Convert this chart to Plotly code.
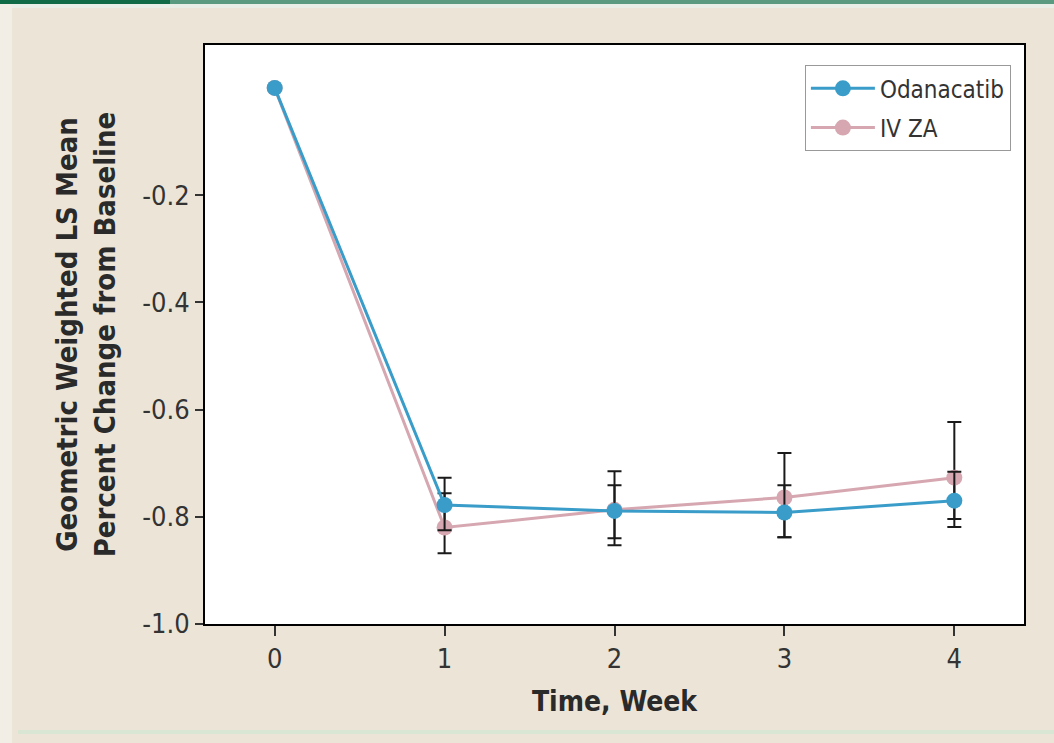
import plotly.graph_objects as go

weeks = [0, 1, 2, 3, 4]
odan_mean = [0.0, -0.778, -0.789, -0.792, -0.770]
odan_upper = [0.0, -0.727, -0.741, -0.741, -0.716]
odan_lower = [0.0, -0.825, -0.840, -0.838, -0.819]
ivza_mean = [0.0, -0.820, -0.787, -0.764, -0.727]
ivza_upper = [0.0, -0.756, -0.715, -0.681, -0.623]
ivza_lower = [0.0, -0.868, -0.853, -0.838, -0.804]

yticks = [-1.0, -0.8, -0.6, -0.4, -0.2]
ytick_text = ["-1.0", "-0.8", "-0.6", "-0.4", "-0.2"]
xticks = [0, 1, 2, 3, 4]

FONT = "DejaVu Sans Condensed, Liberation Sans Narrow, Arial Narrow, Liberation Sans, sans-serif"
BG = "#ece5d7"


def err(mean, up, lo):
    plus = [u - m for u, m in zip(up, mean)]
    minus = [m - l for m, l in zip(mean, lo)]
    return dict(type="data", symmetric=False, array=plus, arrayminus=minus,
                color="#1a1a1a", thickness=2, width=7)


fig = go.Figure()
fig.add_trace(go.Scatter(
    x=weeks, y=ivza_mean, name="IV ZA", mode="lines+markers",
    legendgroup="b", legendrank=2,
    line=dict(color="#d6a7b0", width=3),
    marker=dict(color="#d6a7b0", size=16),
    error_y=err(ivza_mean, ivza_upper, ivza_lower),
))
fig.add_trace(go.Scatter(
    x=weeks, y=odan_mean, name="Odanacatib", mode="lines+markers",
    legendgroup="a", legendrank=1,
    line=dict(color="#3a9dc9", width=3),
    marker=dict(color="#3a9dc9", size=16),
    error_y=err(odan_mean, odan_upper, odan_lower),
))

ml, mr, mt, mb = 205, 30, 45, 119
W, H = 1054, 743
pw, ph = W - ml - mr, H - mt - mb


def px(x):
    return (x - ml) / pw


def py(y):
    return 1 - (y - mt) / ph


shapes = [
    dict(type="rect", xref="paper", yref="paper", x0=px(0), x1=px(12), y0=py(H), y1=py(0),
         fillcolor="#f2eee6", line=dict(width=0), layer="below"),
    dict(type="rect", xref="paper", yref="paper", x0=px(0), x1=px(W), y0=py(4), y1=py(0),
         fillcolor="#5a9a80", line=dict(width=0), layer="below"),
    dict(type="rect", xref="paper", yref="paper", x0=px(0), x1=px(170), y0=py(4), y1=py(0),
         fillcolor="#0f6a45", line=dict(width=0), layer="below"),
    dict(type="rect", xref="paper", yref="paper", x0=px(12), x1=px(W), y0=py(8), y1=py(4),
         fillcolor="#e9eee6", line=dict(width=0), layer="below"),
    dict(type="rect", xref="paper", yref="paper", x0=px(18), x1=px(W), y0=py(734), y1=py(730),
         fillcolor="#d9e6d3", line=dict(width=0), layer="below"),
]

fig.update_layout(
    width=W, height=H,
    margin=dict(l=ml, r=mr, t=mt, b=mb),
    paper_bgcolor=BG, plot_bgcolor="white",
    font=dict(family=FONT, color="#333333", size=20),
    shapes=shapes,
    showlegend=True,
    legend=dict(
        x=0.984, y=0.965, xanchor="right", yanchor="top",
        bgcolor="white", bordercolor="#999999", borderwidth=1,
        traceorder="grouped",
        font=dict(family=FONT, size=24, color="#333333"),
        itemwidth=64, tracegroupgap=5,
    ),
    xaxis=dict(
        range=[-0.41, 4.41], tickvals=xticks,
        showline=True, linecolor="black", linewidth=2, mirror=True,
        ticks="outside", ticklen=10, tickcolor="#333333", tickwidth=2,
        showgrid=False, zeroline=False,
        tickfont=dict(size=27, color="#333333"),
        title=dict(text="<b>Time, Week</b>", font=dict(size=28, color="#2a2a2a"), standoff=18),
    ),
    yaxis=dict(
        range=[-1.0, 0.08], tickvals=yticks, ticktext=ytick_text,
        showline=True, linecolor="black", linewidth=2, mirror=True,
        ticks="outside", ticklen=8, tickcolor="#333333", tickwidth=2,
        showgrid=False, zeroline=False,
        tickfont=dict(size=27, color="#333333"),
        title=dict(text="<b>Geometric Weighted LS Mean<br>Percent Change from Baseline</b>",
                   font=dict(size=29, color="#2a2a2a"), standoff=18),
    ),
)

fig.write_html("out.html")
